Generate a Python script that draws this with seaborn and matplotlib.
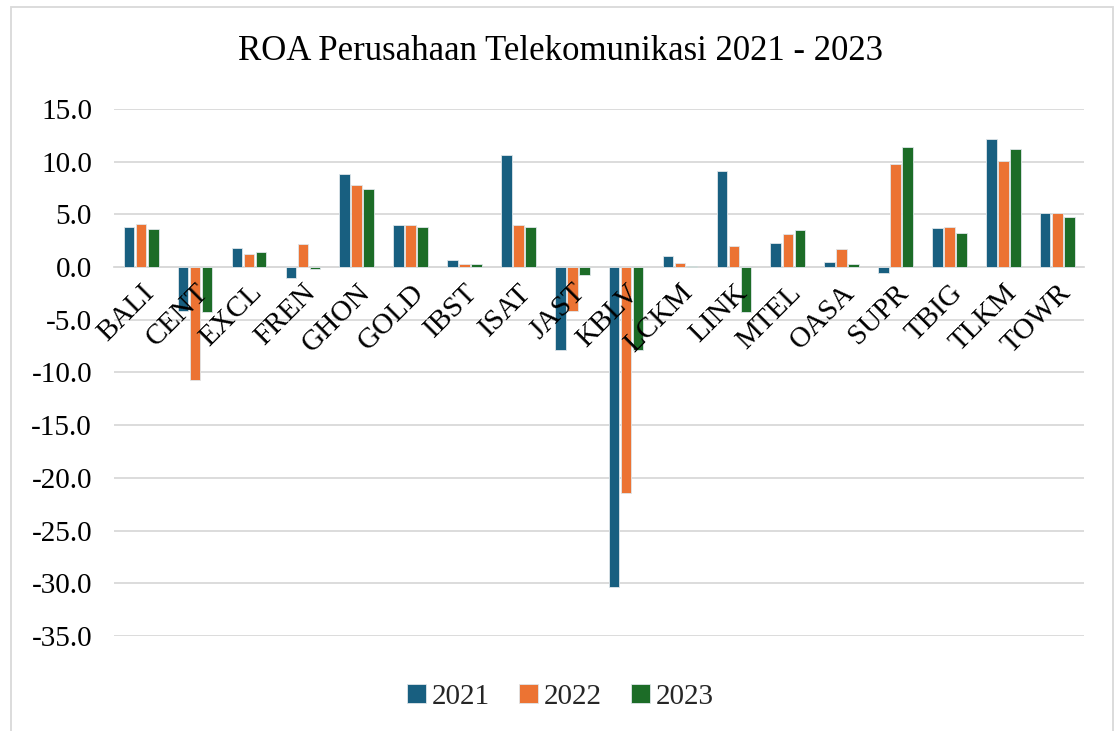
import matplotlib
matplotlib.use("Agg")
import matplotlib.pyplot as plt
import seaborn as sns
import pandas as pd
from matplotlib.ticker import FormatStrFormatter, MultipleLocator

companies = ["BALI", "CENT", "EXCL", "FREN", "GHON", "GOLD", "IBST", "ISAT", "JAST",
             "KBLV", "LCKM", "LINK", "MTEL", "OASA", "SUPR", "TBIG", "TLKM", "TOWR"]
years = ["2021", "2022", "2023"]
roa_2021 = [3.8, -4.2, 1.8, -1.0, 8.8, 4.0, 0.7, 10.6, -7.9, -30.4, 1.0, 9.1, 2.3, 0.5, -0.6, 3.7, 12.1, 5.1]
roa_2022 = [4.1, -10.7, 1.2, 2.2, 7.8, 4.0, 0.3, 4.0, -4.2, -21.4, 0.4, 2.0, 3.1, 1.7, 9.8, 3.8, 10.1, 5.1]
roa_2023 = [3.6, -4.3, 1.4, -0.2, 7.4, 3.8, 0.3, 3.8, -0.8, -7.9, 0.1, -4.3, 3.5, 0.3, 11.4, 3.2, 11.2, 4.7]

colors = ["#185F80", "#EC7333", "#1C6C27"]

rows = []
for y, vals in zip(years, [roa_2021, roa_2022, roa_2023]):
    for c, v in zip(companies, vals):
        rows.append({"Perusahaan": c, "Tahun": y, "ROA": v})
df = pd.DataFrame(rows)

sns.set_theme(style="white")
plt.rcParams["font.family"] = ["Liberation Serif", "DejaVu Serif"]
plt.rcParams["axes.unicode_minus"] = False

fig = plt.figure(figsize=(11.2, 7.31), dpi=100)
ax = fig.add_axes([0.102, 0.130, 0.866, 0.721])

sns.barplot(data=df, x="Perusahaan", y="ROA", hue="Tahun", palette=colors,
            saturation=1, width=0.67, gap=0.12, ax=ax, errorbar=None,
            edgecolor="#dfe6ea", linewidth=0.6, zorder=3)

ax.set_ylim(-35, 15)
ax.set_xlim(-0.5, len(companies) - 0.5)
ax.yaxis.set_major_locator(MultipleLocator(5))
ax.yaxis.set_major_formatter(FormatStrFormatter("%.1f"))
ax.grid(axis="y", color="#d9d9d9", linewidth=1.3)
ax.set_axisbelow(False)
ax.yaxis.set_zorder(0.5)
ax.xaxis.set_zorder(6)
for s in ["top", "right", "left"]:
    ax.spines[s].set_visible(False)
ax.spines["bottom"].set_position(("data", 0))
ax.spines["bottom"].set_color("#d9d9d9")
ax.spines["bottom"].set_linewidth(1.3)
ax.spines["bottom"].set_zorder(2)

ax.set_xlabel("")
ax.set_ylabel("")
ax.tick_params(axis="y", length=0, pad=16, labelsize=21, labelcolor="black")
ax.tick_params(axis="x", length=0, pad=9, labelsize=21, labelcolor="black")
for lab in ax.get_xticklabels():
    lab.set_rotation(45)
    lab.set_ha("right")
    lab.set_rotation_mode("anchor")

fig.text(0.5, 0.930, "ROA Perusahaan Telekomunikasi 2021 - 2023", ha="center", va="center",
         fontsize=25, color="black")

ax.legend_.remove()
handles, labels = ax.get_legend_handles_labels()
leg = fig.legend(handles, labels, loc="center", bbox_to_anchor=(0.5, 0.047), ncol=3,
                 frameon=False, fontsize=21, handlelength=0.65, handleheight=0.65,
                 handletextpad=0.2, columnspacing=1.0)

fig.patches.append(matplotlib.patches.Rectangle((0.0098, -0.01), 0.984, 1.0,
                   transform=fig.transFigure, fill=False, edgecolor="#d9d9d9", linewidth=1.3))

fig.savefig("out.png", dpi=100)
